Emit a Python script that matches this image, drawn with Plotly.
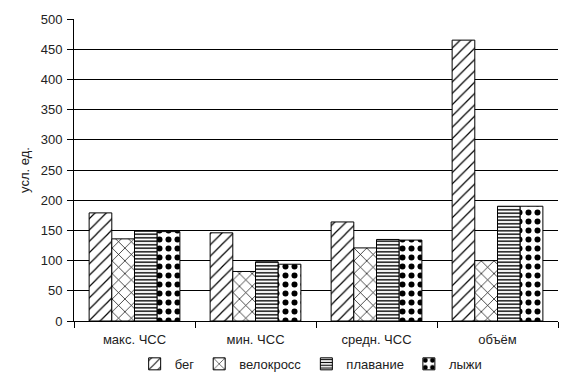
import plotly.graph_objects as go

categories = ["макс. ЧСС", "мин. ЧСС", "средн. ЧСС", "объём"]
series_names = ["бег", "велокросс", "плавание", "лыжи"]
beg = [179, 146, 164, 465]
velokross = [136, 82, 121, 100]
plavanie = [149, 98, 135, 190]
lyzhi = [148, 94, 134, 190]
values = [beg, velokross, plavanie, lyzhi]
y_ticks = [0, 50, 100, 150, 200, 250, 300, 350, 400, 450, 500]

patterns = [
    dict(shape="/", fgcolor="black", bgcolor="white", size=8, solidity=0.15, fgopacity=1, fillmode="replace"),
    dict(shape="x", fgcolor="black", bgcolor="white", size=9, solidity=0.15, fgopacity=1, fillmode="replace"),
    dict(shape="-", fgcolor="black", bgcolor="white", size=3.5, solidity=0.4, fgopacity=1, fillmode="replace"),
    dict(shape=".", fgcolor="black", bgcolor="white", size=9, solidity=0.35, fgopacity=1, fillmode="replace"),
]

fig = go.Figure()
for name, vals, pat in zip(series_names, values, patterns):
    fig.add_trace(go.Bar(
        x=categories, y=vals, name=name,
        marker=dict(color="white", line=dict(color="black", width=1), pattern=pat),
    ))

fig.update_layout(
    width=580, height=382,
    margin=dict(l=74, r=22, t=19, b=61, autoexpand=False),
    paper_bgcolor="white", plot_bgcolor="white",
    barmode="group", bargap=0.25, bargroupgap=0,
    font=dict(family="Liberation Sans, Arial, sans-serif", size=13, color="#222"),
    showlegend=True,
    legend=dict(orientation="h", x=0.49, xanchor="center", y=-0.142, yanchor="middle",
                font=dict(size=13), itemwidth=30, traceorder="normal"),
    yaxis=dict(range=[0, 500], tickvals=y_ticks, showgrid=True, gridcolor="black", gridwidth=1,
               showline=True, linecolor="black", linewidth=1, ticks="outside", ticklen=6,
               tickcolor="black", zeroline=False, automargin=False, ticklabelstandoff=2,
               title=dict(text="усл. ед.", font=dict(size=13), standoff=8)),
    xaxis=dict(showline=True, linecolor="black", linewidth=1, ticks="outside", ticklen=6,
               tickcolor="black", tickson="boundaries", showgrid=False, automargin=False,
               ticklabelstandoff=6),
)

fig.write_html("out.html", config={"displayModeBar": False},
               post_script="document.body.style.margin='0';")
